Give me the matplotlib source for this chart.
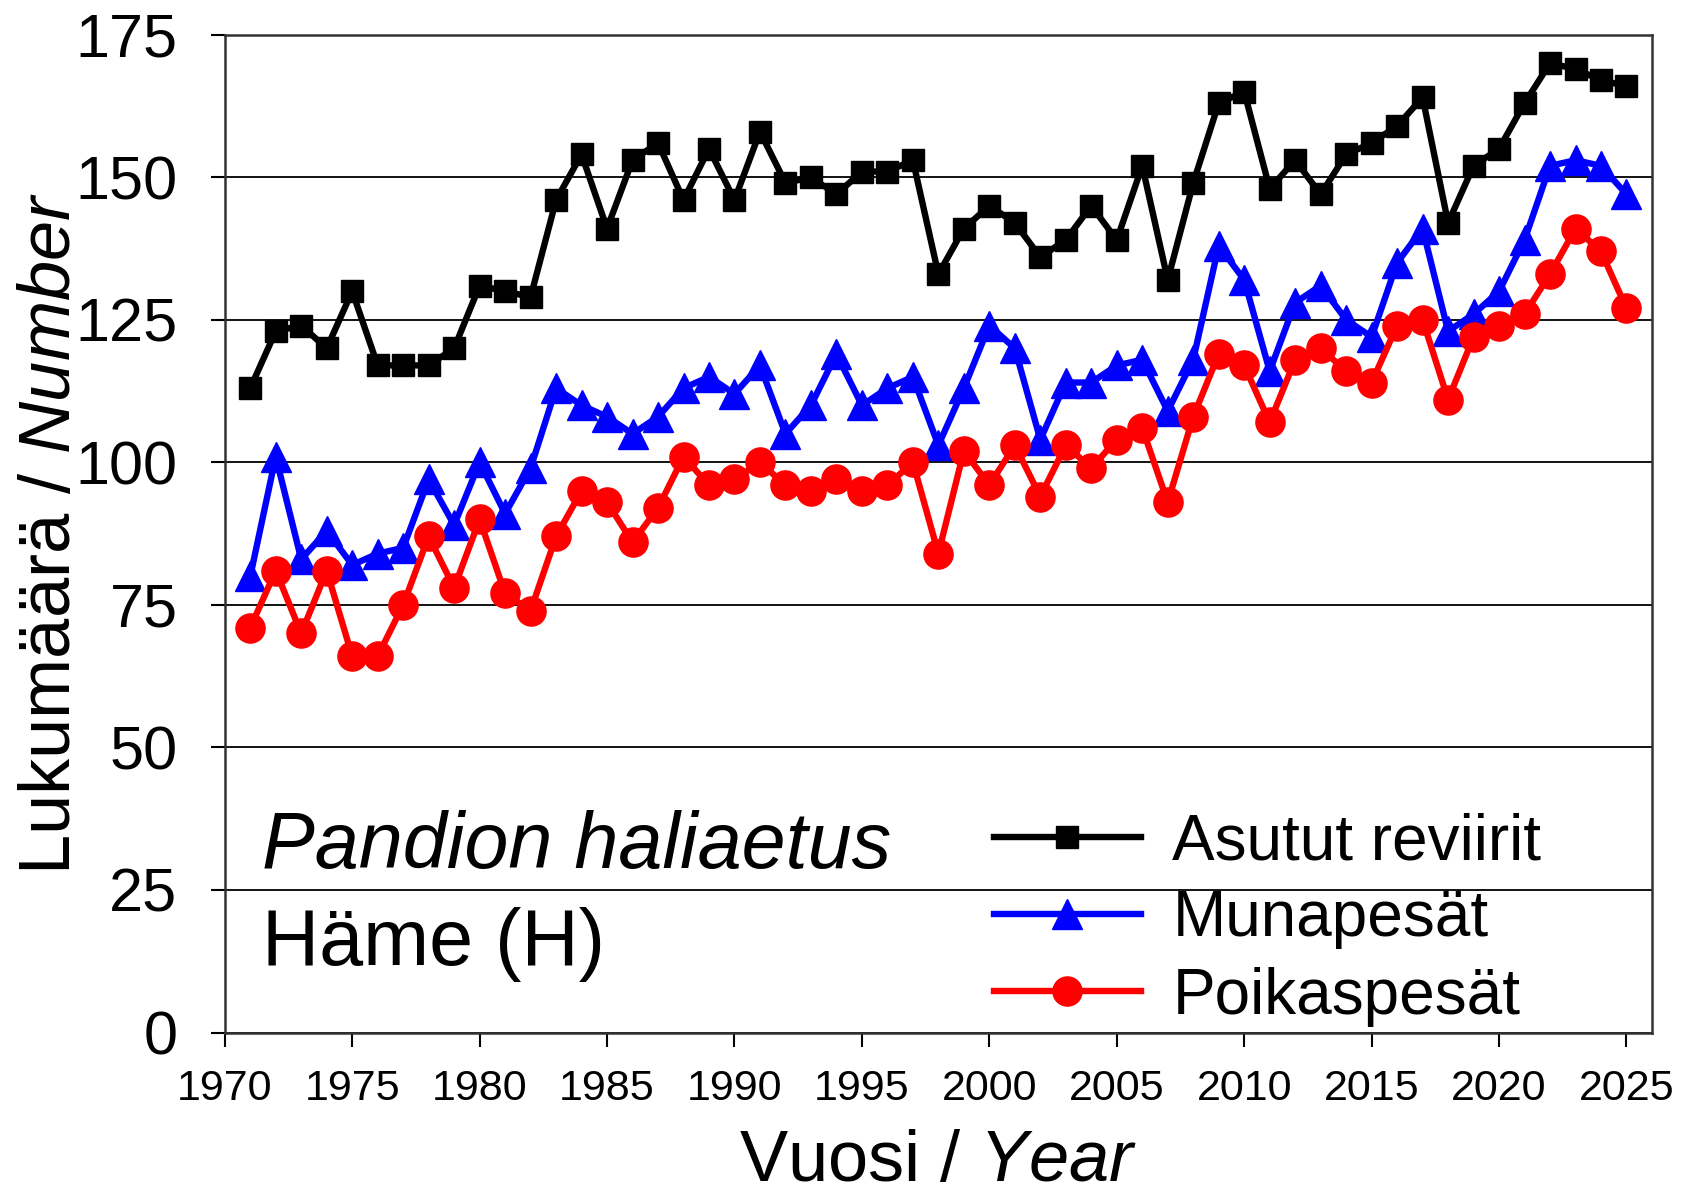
# Sääksi (Pandion haliaetus), Häme (H): asutut reviirit, munapesät, poikaspesät 1971-2025

import matplotlib
matplotlib.use('Agg')
import matplotlib.pyplot as plt

plt.rcParams['font.family'] = ['Liberation Sans', 'DejaVu Sans']
plt.rcParams['mathtext.fontset'] = 'custom'
plt.rcParams['mathtext.rm'] = 'Liberation Sans'
plt.rcParams['mathtext.it'] = 'Liberation Sans:italic'

years = list(range(1971, 2026))

# Asutut reviirit
asutut = [113, 123, 124, 120, 130, 117, 117, 117, 120, 131,
          130, 129, 146, 154, 141, 153, 156, 146, 155, 146,
          158, 149, 150, 147, 151, 151, 153, 133, 141, 145,
          142, 136, 139, 145, 139, 152, 132, 149, 163, 165,
          148, 153, 147, 154, 156, 159, 164, 142, 152, 155,
          163, 170, 169, 167, 166]

# Munapesät
muna = [80, 101, 83, 88, 82, 84, 85, 97, 89, 100,
        91, 99, 113, 110, 108, 105, 108, 113, 115, 112,
        117, 105, 110, 119, 110, 113, 115, 103, 113, 124,
        120, 104, 114, 114, 117, 118, 109, 118, 138, 132,
        116, 128, 131, 125, 122, 135, 141, 123, 126, 130,
        139, 152, 153, 152, 147]

# Poikaspesät
poikas = [71, 81, 70, 81, 66, 66, 75, 87, 78, 90,
          77, 74, 87, 95, 93, 86, 92, 101, 96, 97,
          100, 96, 95, 97, 95, 96, 100, 84, 102, 96,
          103, 94, 103, 99, 104, 106, 93, 108, 119, 117,
          107, 118, 120, 116, 114, 124, 125, 111, 122, 124,
          126, 133, 141, 137, 127]

xticks = list(range(1970, 2030, 5))
yticks = list(range(0, 200, 25))

fig = plt.figure(figsize=(16.9, 11.97), dpi=100)
ax = fig.add_axes([0.133, 0.1374, 0.8445, 0.8336])

ax.plot(years, asutut, color='black', lw=4.6, marker='s', ms=16.5,
        label='Asutut reviirit', zorder=3)
ax.plot(years, muna, color='#0000ff', lw=4.6, marker='^', ms=21.5,
        label='Munapesät', zorder=4)
ax.plot(years, poikas, color='#ff0000', lw=4.6, marker='o', ms=21,
        label='Poikaspesät', zorder=5)

ax.set_xlim(1970, 2026)
ax.set_ylim(0, 175)
ax.set_xticks(xticks)
ax.set_yticks(yticks)
ax.grid(axis='y', color='black', lw=1.3, zorder=1)
ax.set_axisbelow(True)

for s in ax.spines.values():
    s.set_color('#333333')
    s.set_linewidth(1.8)

ax.tick_params(axis='x', direction='out', length=10, width=1.5, labelsize=31, pad=16)
ax.tick_params(axis='y', direction='out', length=10, width=1.5, labelsize=44, pad=24)

ax.set_xlabel('Vuosi / $\\mathit{Year}$', fontsize=52, labelpad=15)
ax.set_ylabel('Lukumäärä / $\\mathit{Number}$', fontsize=52)
ax.yaxis.set_label_coords(-0.098, 0.5)

ax.text(0.026, 0.165, 'Pandion haliaetus', transform=ax.transAxes,
        fontsize=57, style='italic', va='baseline', ha='left')
ax.text(0.026, 0.068, 'Häme (H)', transform=ax.transAxes,
        fontsize=57, va='baseline', ha='left')

ax.legend(loc='center left', bbox_to_anchor=(0.5387, 0.1135), frameon=False,
          fontsize=46, handlelength=2.3, handletextpad=0.5, labelspacing=0.27,
          borderpad=0, borderaxespad=0)

plt.savefig('out.png', dpi=100)
